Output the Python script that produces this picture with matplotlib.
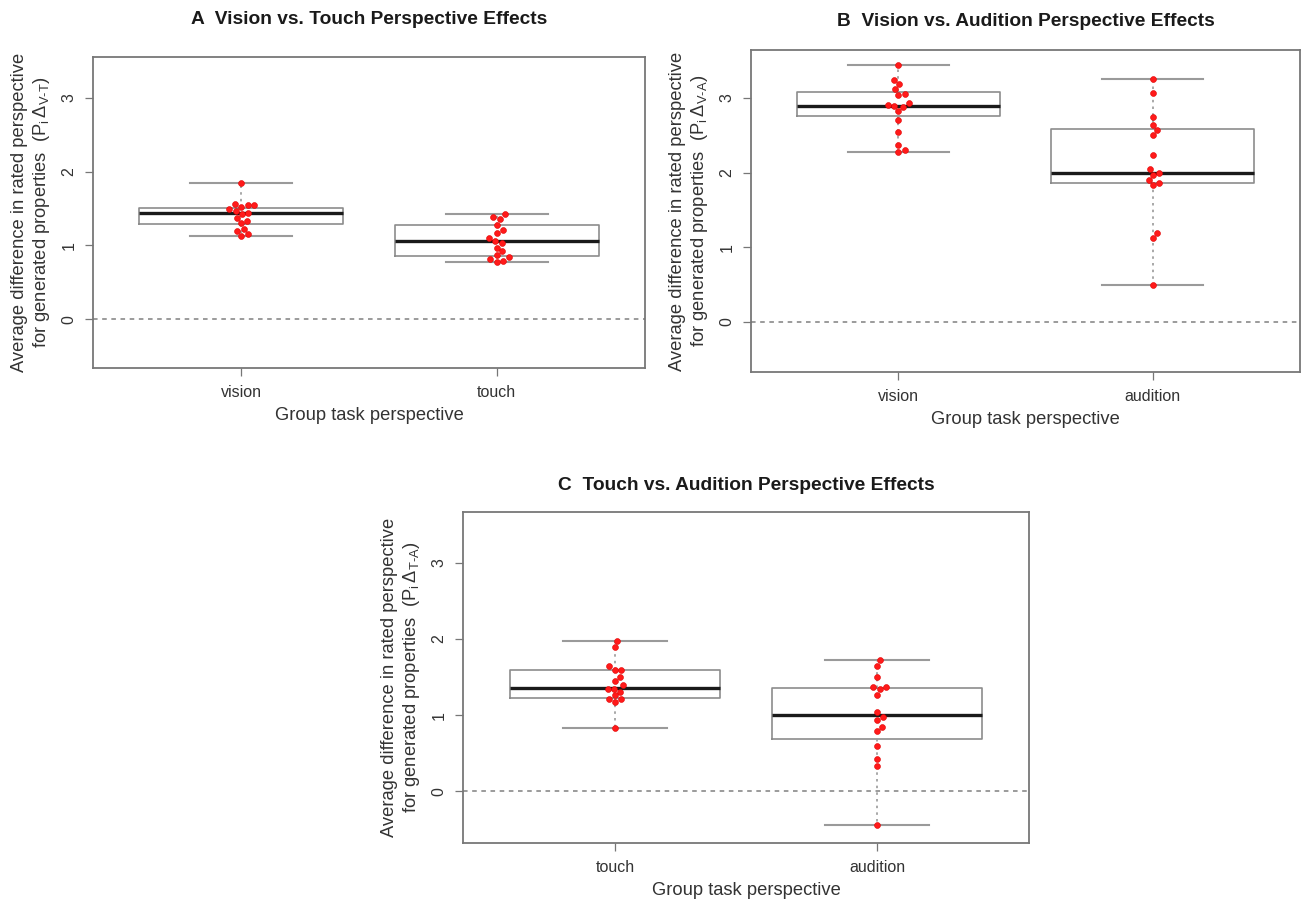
import numpy as np
import matplotlib
matplotlib.use("Agg")
import matplotlib.pyplot as plt

plt.rcParams['font.family'] = ['Liberation Sans', 'DejaVu Sans']
plt.rcParams['mathtext.fontset'] = 'custom'
plt.rcParams['mathtext.rm'] = 'Liberation Sans'
plt.rcParams['mathtext.it'] = 'Liberation Sans:italic'

# --- data (per participant means) ---
a_groups = ['vision', 'touch']
a_vision = [1.84, 1.56, 1.55, 1.54, 1.52, 1.49, 1.47, 1.44, 1.43, 1.37, 1.33, 1.30, 1.22, 1.20, 1.15, 1.13]
a_touch = [1.42, 1.39, 1.36, 1.28, 1.21, 1.17, 1.10, 1.06, 1.03, 0.97, 0.92, 0.87, 0.84, 0.81, 0.79, 0.78]

b_groups = ['vision', 'audition']
b_vision = [3.44, 3.24, 3.19, 3.12, 3.05, 3.04, 2.93, 2.90, 2.89, 2.88, 2.82, 2.70, 2.54, 2.37, 2.30, 2.27]
b_audition = [3.25, 3.07, 2.74, 2.64, 2.57, 2.50, 2.24, 2.05, 2.00, 1.97, 1.90, 1.86, 1.83, 1.19, 1.12, 0.50]

c_groups = ['touch', 'audition']
c_touch = [1.97, 1.89, 1.64, 1.60, 1.60, 1.50, 1.45, 1.39, 1.35, 1.35, 1.31, 1.26, 1.21, 1.21, 1.17, 0.83]
c_audition = [1.72, 1.64, 1.50, 1.37, 1.37, 1.34, 1.26, 1.04, 0.97, 0.93, 0.85, 0.79, 0.59, 0.43, 0.33, -0.44]

# box statistics as drawn in the reference: (whislo, q1, med, q3, whishi)
a_stats = [(1.13, 1.29, 1.44, 1.50, 1.84), (0.78, 0.86, 1.06, 1.27, 1.42)]
b_stats = [(2.27, 2.76, 2.89, 3.08, 3.44), (0.50, 1.86, 2.00, 2.58, 3.25)]
c_stats = [(0.83, 1.23, 1.36, 1.60, 1.97), (-0.44, 0.69, 1.00, 1.36, 1.72)]

W, H = 1309, 899
fig = plt.figure(figsize=(W / 100, H / 100), dpi=100)


def px_axes(left, right, top, bottom):
    return fig.add_axes([left / W, 1 - bottom / H, (right - left) / W, (bottom - top) / H])


def swarm(ax, x0, vals, diam=6.5):
    # simple beeswarm: place points bottom-up, nudge sideways on overlap
    disp = ax.transData.transform(np.column_stack([np.full(len(vals), x0), vals]))
    order = np.argsort(disp[:, 1])
    placed = []
    xs = np.zeros(len(vals))
    for i in order:
        xd, yd = disp[i]
        for k in range(0, 80):
            off = ((k + 1) // 2) * (1 if k % 2 else -1) * 0.5
            ok = all((xd + off - px) ** 2 + (yd - py) ** 2 >= diam ** 2 for px, py in placed)
            if ok:
                break
        placed.append((xd + off, yd))
        xs[i] = xd + off
    pts = ax.transData.inverted().transform(np.column_stack([xs, disp[:, 1]]))
    ax.scatter(pts[:, 0], pts[:, 1], s=18, color='#ff1a1a', edgecolors='#e00000',
               linewidths=0.4, zorder=5)


def panel(ax, title, groups, series, stats, sub, ylim, pad):
    bxp = []
    for s in stats:
        bxp.append(dict(whislo=s[0], q1=s[1], med=s[2], q3=s[3], whishi=s[4], fliers=[]))
    ax.bxp(bxp, positions=[1, 2], widths=0.8, capwidths=0.4, showfliers=False,
           boxprops=dict(color='#8c8c8c', lw=1.2),
           whiskerprops=dict(color='#9a9a9a', lw=1.2, linestyle=(0, (1.5, 2.5))),
           capprops=dict(color='#9a9a9a', lw=1.5),
           medianprops=dict(color='#1a1a1a', lw=2.4))
    ax.axhline(0, color='#808080', lw=1.1, linestyle=(0, (3, 3)), zorder=1)
    ax.set_xlim(0.42, 2.58)
    ax.set_ylim(*ylim)
    ax.set_yticks([0, 1, 2, 3])
    ax.set_xticks([1, 2])
    ax.set_xticklabels(groups)
    ax.tick_params(axis='y', labelrotation=90, length=6, width=0.9, color='#777777',
                   labelsize=11.5, labelcolor='#333333', pad=6)
    ax.tick_params(axis='x', length=6, width=0.9, color='#777777',
                   labelsize=11.5, labelcolor='#333333', pad=6)
    for lab in ax.get_yticklabels():
        lab.set_va('center')
    for sp in ax.spines.values():
        sp.set_color('#777777')
        sp.set_linewidth(1.3)
    for x0, vals in zip([1, 2], series):
        swarm(ax, x0, vals)
    ax.set_title(title, fontsize=13.8, fontweight='bold', color='#1a1a1a', pad=pad)
    ax.set_xlabel('Group task perspective', fontsize=13.2, color='#333333', labelpad=5)
    ax.set_ylabel('Average difference in rated perspective\nfor generated properties  '
                  r'(P$_{\rm i}\,\Delta_{\rm ' + sub + r'}$)',
                  fontsize=13.2, color='#333333', labelpad=7, linespacing=1.2)


ax_a = px_axes(93, 645, 57, 368)
ax_b = px_axes(751, 1300, 50, 372)
ax_c = px_axes(463, 1029, 512, 843)

panel(ax_a, 'A  Vision vs. Touch Perspective Effects', a_groups, [a_vision, a_touch],
      a_stats, 'V{\u2010}T', (-0.66, 3.55), 24)
panel(ax_b, 'B  Vision vs. Audition Perspective Effects', b_groups, [b_vision, b_audition],
      b_stats, 'V{\u2010}A', (-0.67, 3.64), 17)
panel(ax_c, 'C  Touch vs. Audition Perspective Effects', c_groups, [c_touch, c_audition],
      c_stats, 'T{\u2010}A', (-0.68, 3.67), 16)

fig.savefig('out.png', dpi=100, facecolor='white')
